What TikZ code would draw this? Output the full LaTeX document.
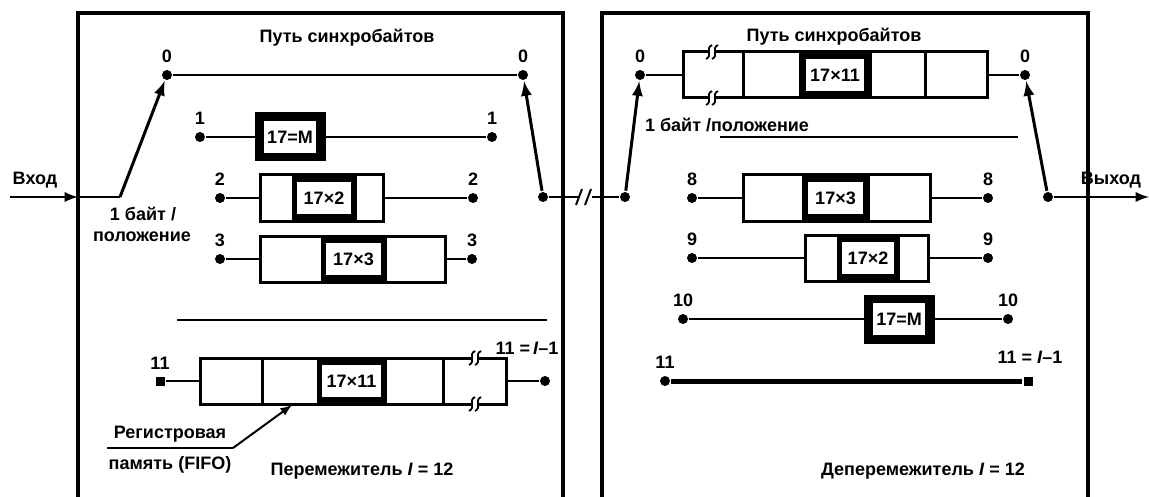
\documentclass[tikz,border=0pt]{standalone}
\usepackage{fontspec}
\setmainfont{Liberation Sans}
\begin{document}
\begin{tikzpicture}[>=latex, x=0.5pt, y=-0.5pt, line width=1.3pt, label distance=-1pt,
    dot/.style={circle, fill, inner sep=0pt, minimum size=5pt},
    sqdot/.style={rectangle, fill, inner sep=0pt, minimum size=4.5pt},
    fifo/.style={rectangle, draw, line width=1.5pt, inner sep=0pt, minimum height=23pt},
    hot/.style={rectangle, draw, fill=black, line width=1.5pt, inner sep=0pt, minimum height=23pt},
    tag/.style={rectangle, draw, fill=white, line width=0.8pt, inner sep=0pt, minimum height=16.5pt},
    frame/.style={line width=2pt}]
  \tikzstyle{every node}=[font=\fontsize{9}{10}\selectfont\bfseries]
  \useasboundingbox (0,0) rectangle (1149,497);

  % frames
  \draw[frame] (78,500) -- (78,13) -- (563,13) -- (563,500);
  \draw[frame] (602,500) -- (602,13) -- (1088,13) -- (1088,500);
  \node at (347,38) {Путь синхробайтов};
  \node at (834,37) {Путь синхробайтов};

  % interleaver switch
  \coordinate (in) at (10,197);
  \coordinate (inb) at (78,197);
  \coordinate (lp) at (120,197);
  \node at (35,180) {Вход};
  \node[dot, label=above:{0}] (L0a) at (167,75) {};
  \node[dot, label=above:{0}] (L0b) at (523,75) {};
  \node[dot] (lq) at (543,197) {};
  \draw[->] (in) -- (inb);
  \draw (inb) -- (lp);
  \draw[->, line width=1.5pt] (lp) -- (L0a);
  \draw (L0a) -- (L0b);
  \draw[->, line width=1.5pt] (lq) -- (L0b);
  \node at (143,214) {1 байт /};
  \node at (142,237) {положение};

  % branch 1
  \node[dot, label=above:{1}] (L1a) at (200,137) {};
  \node[hot, minimum width=34pt] (L1) at (290,137) {};
  \node[tag, minimum width=27pt] at (L1) {17=M};
  \node[dot, label=above:{1}] (L1b) at (492,137) {};
  \draw (L1a) -- (L1) -- (L1b);

  % branch 2
  \node[dot, label=above:{2}] (L2a) at (220,198) {};
  \node[fifo, minimum width=61.5pt] (L2) at (321.5,198) {};
  \node[hot, minimum width=31pt] (L2c) at (324,198) {};
  \node[tag, minimum width=28pt] at (L2c) {17×2};
  \node[dot, label=above:{2}] (L2b) at (473,198) {};
  \draw (L2a) -- (L2) -- (L2b);

  % branch 3
  \node[dot, label=above:{3}] (L3a) at (220,259) {};
  \node[fifo, minimum width=92.5pt] (L3) at (352.5,259) {};
  \node[hot, minimum width=31.5pt] (L3c) at (353.5,259) {};
  \node[tag, minimum width=28pt] at (L3c) {17×3};
  \node[dot, label=above:{3}] (L3b) at (472,259) {};
  \draw (L3a) -- (L3) -- (L3b);

  \coordinate (Lsa) at (177,320);
  \coordinate (Lsb) at (547,320);
  \draw (Lsa) -- (Lsb);

  % branch 11
  \node[sqdot, label=above:{11}] (L11a) at (160,381) {};
  \node[fifo, minimum width=153pt] (L11) at (353,381) {};
  \foreach \x in {262,443}
    \draw[line width=1.5pt] (\x,358) -- (\x,404);
  \node[hot, minimum width=33.5pt] (L11c) at (351.5,381) {};
  \node[tag, minimum width=30pt] at (L11c) {17×11};
  \node[dot, label={[xshift=-9pt, yshift=7pt]above:{11 =\,\textit{I}–1}}] (L11b) at (545,381) {};
  \draw (L11a) -- (L11) -- (L11b);

  % FIFO callout
  \node (reg) at (170,434) {Регистровая};
  \node (pam) at (170,465) {память (FIFO)};
  \coordinate (ul) at (107,448);
  \coordinate (ur) at (233,448);
  \coordinate (L11tip) at (292,405);
  \draw[line width=1pt] (ul) -- (ur);
  \draw[->, line width=1pt] (ur) -- (L11tip);
  \node at (362,471) {Перемежитель \textit{I} = 12};

  % link
  \node[dot] (rp) at (625,197) {};
  \draw (lq) -- (rp);
  \draw[white, line width=4pt] (578,197) -- (592,197);
  \draw[line width=1pt] (576,205) -- (582,189) (585,205) -- (591,189);

  % deinterleaver switch
  \node[dot, label=above:{0}] (R0a) at (640,75) {};
  \node[dot, label=above:{0}] (R0b) at (1025,75) {};
  \node[dot] (rq) at (1048,197) {};
  \coordinate (out) at (1149,197);
  \draw[->, line width=1.5pt] (rp) -- (R0a);
  \draw[->, line width=1.5pt] (rq) -- (R0b);
  \draw[->] (rq) -- (out);
  \node[anchor=east] at (1149,180) {Выход};
  \node at (727,125) {1 байт /положение};

  % branch 0
  \node[fifo, minimum width=152pt] (R0) at (835,75) {};
  \foreach \x in {743,925}
    \draw[line width=1.5pt] (\x,52) -- (\x,98);
  \node[hot, minimum width=35pt] (R0c) at (835,75) {};
  \node[tag, minimum width=30pt] at (R0c) {17×11};
  \draw (R0a) -- (R0) -- (R0b);

  \coordinate (Rsa) at (720,137);
  \coordinate (Rsb) at (1018,137);
  \draw (Rsa) -- (Rsb);

  % branch 8
  \node[dot, label=above:{8}] (R8a) at (692,198) {};
  \node[fifo, minimum width=93.5pt] (R8) at (836.5,198) {};
  \node[hot, minimum width=32.5pt] (R8c) at (835.5,198) {};
  \node[tag, minimum width=28pt] at (R8c) {17×3};
  \node[dot, label=above:{8}] (R8b) at (988,198) {};
  \draw (R8a) -- (R8) -- (R8b);

  % branch 9
  \node[dot, label=above:{9}] (R9a) at (692,258) {};
  \node[fifo, minimum width=61.5pt] (R9) at (866.5,258) {};
  \node[hot, minimum width=30pt] (R9c) at (868,258) {};
  \node[tag, minimum width=27pt] at (R9c) {17×2};
  \node[dot, label=above:{9}] (R9b) at (988,258) {};
  \draw (R9a) -- (R9) -- (R9b);

  % branch 10
  \node[dot, label=above:{10}] (R10a) at (683,319) {};
  \node[hot, minimum width=34pt] (R10) at (899,319) {};
  \node[tag, minimum width=27pt] at (R10) {17=M};
  \node[dot, label=above:{10}] (R10b) at (1008,319) {};
  \draw (R10a) -- (R10) -- (R10b);

  % branch 11
  \node[dot, label=above:{11}] (R11a) at (665,381) {};
  \node[sqdot, label={[xshift=1pt, yshift=3pt]above:{11 = \textit{I}–1}}] (R11b) at (1028,381) {};
  \draw[line width=2.5pt] (R11a) -- (R11b);
  \node at (923,471) {Деперемежитель \textit{I} = 12};

  % break marks
  \foreach \x/\y in {475/358, 475/404, 712/52, 712/98} {
    \draw[white, line width=3pt] (\x-4,\y) -- (\x+4,\y);
    \draw[line width=0.9pt] (\x-6,\y+7) .. controls (\x+1,\y+4) and (\x-7,\y-4) .. (\x,\y-7);
    \draw[line width=0.9pt] (\x,\y+7) .. controls (\x+7,\y+4) and (\x-1,\y-4) .. (\x+6,\y-7);
  }
\end{tikzpicture}
\end{document}
